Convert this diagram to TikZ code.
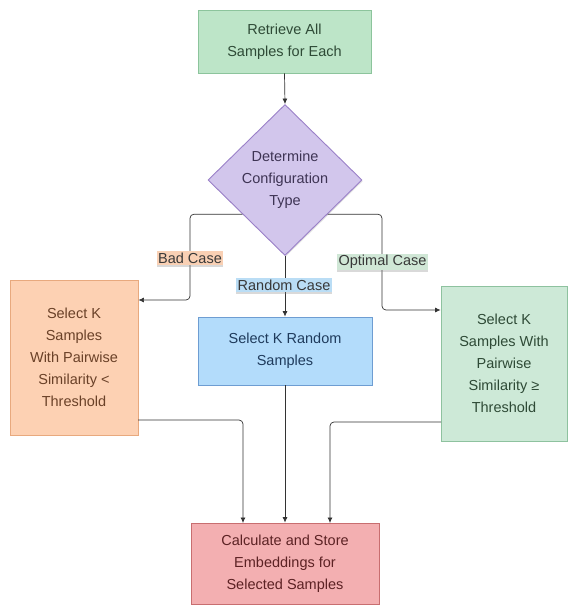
\documentclass[tikz,border=0pt]{standalone}
\usepackage{fontspec}
\setmainfont{Liberation Sans}
\usetikzlibrary{shapes.geometric,arrows.meta,calc,shadows}
\definecolor{gfill}{HTML}{BDE5C8}
\definecolor{gdraw}{HTML}{8CC49C}
\definecolor{gtext}{HTML}{2E4A36}
\definecolor{pfill}{HTML}{D2C6EC}
\definecolor{pdraw}{HTML}{9A80C8}
\definecolor{ptext}{HTML}{3E3454}
\definecolor{ofill}{HTML}{FDD1B3}
\definecolor{odraw}{HTML}{E8A97E}
\definecolor{otext}{HTML}{6A4128}
\definecolor{bfill}{HTML}{B3DCFB}
\definecolor{bdraw}{HTML}{6E9DD2}
\definecolor{btext}{HTML}{1F3B5C}
\definecolor{g2fill}{HTML}{CDE9D7}
\definecolor{g2draw}{HTML}{8EC29F}
\definecolor{rfill}{HTML}{F3AFB1}
\definecolor{rdraw}{HTML}{C86E70}
\definecolor{rtext}{HTML}{5C2224}
\definecolor{lblo}{HTML}{F9D0B4}
\definecolor{lblb}{HTML}{BADDF5}
\definecolor{lblg}{HTML}{D0E7D6}
\definecolor{linec}{HTML}{333333}
\tikzset{
  box/.style={draw, line width=0.9pt, inner sep=0pt, align=center,
    font=\fontsize{14.5}{22}\selectfont,
    drop shadow={shadow xshift=0.8pt, shadow yshift=-1.2pt, opacity=0.25}},
  lbl/.style={inner sep=1.5pt, font=\fontsize{14.5}{17}\selectfont, text=black!78,
    drop shadow={shadow xshift=0pt, shadow yshift=-2pt, opacity=0.3}},
  conn/.style={draw=linec, line width=0.7pt, rounded corners=4pt,
    -{Latex[length=5.5pt,width=5pt]}}
}
\begin{document}
\begin{tikzpicture}[x=1pt,y=-1pt]
\useasboundingbox (0,0) rectangle (568,605);
\node[box, fill=gfill, draw=gdraw, text=gtext, minimum width=173pt, minimum height=63pt] (top) at (284.5,41.5) {Retrieve All\\Samples for Each};
\node[draw=pdraw, fill=pfill, line width=0.9pt, shape=diamond, inner sep=0pt, minimum width=154pt, minimum height=151pt,
  drop shadow={shadow xshift=0.8pt, shadow yshift=-1.2pt, opacity=0.25}] (dia) at (285,180) {};
\node[align=center, text=ptext, font=\fontsize{14.5}{22}\selectfont] (diat) at (dia.center) {Determine\\Configuration\\Type};
\node[box, fill=ofill, draw=odraw, text=otext, minimum width=128pt, minimum height=155pt] (bad) at (74,357.5) {Select K\\Samples\\With Pairwise\\Similarity <\\Threshold};
\node[box, fill=bfill, draw=bdraw, text=btext, minimum width=174pt, minimum height=68pt] (rnd) at (285,351) {Select K Random\\Samples};
\node[box, fill=g2fill, draw=g2draw, text=gtext, minimum width=126pt, minimum height=155pt] (opt) at (504,363.5) {Select K\\Samples With\\Pairwise\\Similarity ≥\\Threshold};
\node[box, fill=rfill, draw=rdraw, text=rtext, minimum width=188pt, minimum height=81pt] (emb) at (285,563.5) {Calculate and Store\\Embeddings for\\Selected Samples};

\coordinate (dl) at ($(dia.west)!0.45!(dia.south)$);
\coordinate (dr) at ($(dia.east)!0.45!(dia.south)$);
\coordinate (lk) at (190,300);
\coordinate (rk) at (382,310);
\coordinate (bo) at (138,420);
\coordinate (bg) at (441,422);
\coordinate (eb1) at (243,523);
\coordinate (eb3) at (330,523);

\draw[conn] (top.south) -- (dia.north);
\draw[conn] (dl) -| (lk) -- (lk -| bad.east);
\draw[conn] (dr) -| (rk) -- (rk -| opt.west);
\draw[conn] (dia.south) -- (rnd.north);
\draw[conn] (bo) -| (eb1);
\draw[conn] (rnd.south) -- (emb.north);
\draw[conn] (bg) -| (eb3);

\node[lbl, fill=lblo] (lb1) at (190,258) {Bad Case};
\node[lbl, fill=lblb] (lb2) at (284,285) {Random Case};
\node[lbl, fill=lblg] (lb3) at (382.5,262) {Optimal Case};
\end{tikzpicture}
\end{document}
